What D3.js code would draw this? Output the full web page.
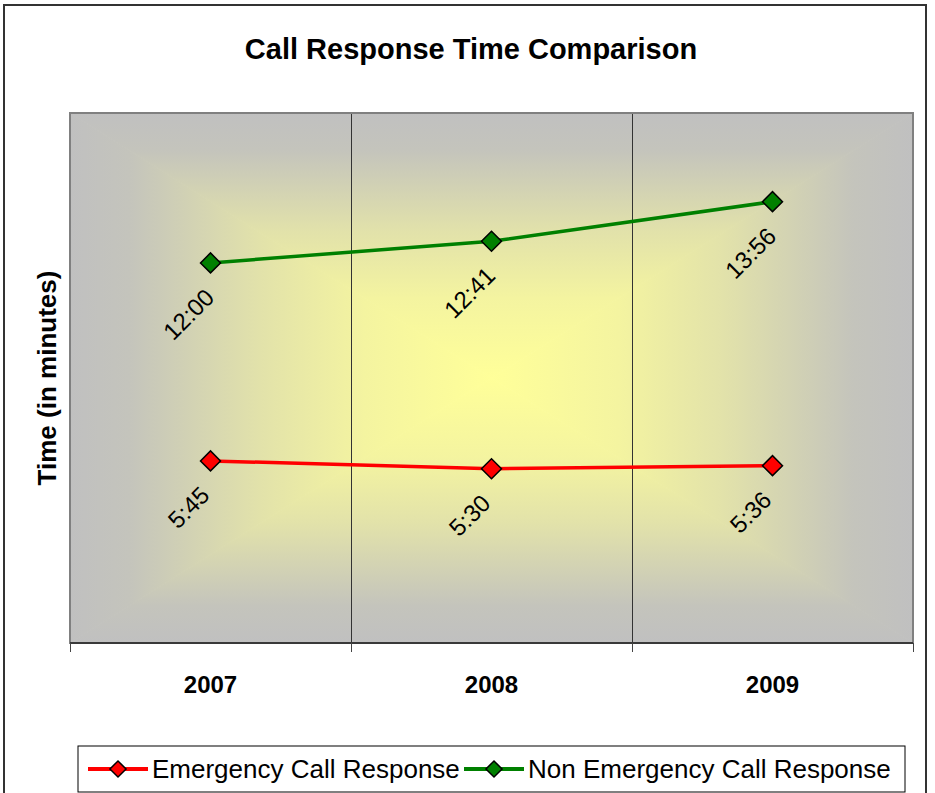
<!DOCTYPE html>
<html>
<head>
<meta charset="utf-8">
<script src="https://cdn.jsdelivr.net/npm/d3@7"></script>
<style>
  body { margin: 0; background: #fff; }
  svg { display: block; font-family: Arial, 'Liberation Sans', sans-serif; }
</style>
</head>
<body>
<div class="svg-container"></div>
<script>
// data (times in seconds)
const years = ['2007', '2008', '2009']
const emergency = [345, 330, 336]
const nonEmergency = [720, 761, 836]
const seriesNames = ['Emergency Call Response', 'Non Emergency Call Response']
const seriesColors = ['#ff0000', '#008000']

const width = 935
const height = 793
const plot = { left: 70, right: 913, top: 113, bottom: 643 }
const yMax = 1004

const svg = d3.select('.svg-container')
  .append('svg')
  .attr('width', width)
  .attr('height', height)

// outer chart frame
svg.append('rect')
  .attr('x', 4).attr('y', 5)
  .attr('width', 922).attr('height', 800)
  .attr('fill', '#fff')
  .attr('stroke', '#333')
  .attr('stroke-width', 2)

svg.append('text')
  .attr('x', 471)
  .attr('y', 59)
  .attr('text-anchor', 'middle')
  .attr('font-size', 29)
  .attr('font-weight', 'bold')
  .text('Call Response Time Comparison')

const xScale = d3.scaleBand()
  .domain(years)
  .range([plot.left, plot.right])

const yScale = d3.scaleLinear()
  .domain([0, yMax])
  .range([plot.bottom, plot.top])

const xMid = d => xScale(d) + xScale.bandwidth() / 2

// box gradient: gray edges to yellow centre, built from four triangles
const defs = svg.append('defs')
const cx = (plot.left + plot.right) / 2
const cy = (plot.top + plot.bottom) / 2
const sides = [
  { id: 'gTop', pts: [[plot.left, plot.top], [plot.right, plot.top], [cx, cy]], from: [cx, plot.top] },
  { id: 'gBottom', pts: [[plot.left, plot.bottom], [plot.right, plot.bottom], [cx, cy]], from: [cx, plot.bottom] },
  { id: 'gLeft', pts: [[plot.left, plot.top], [plot.left, plot.bottom], [cx, cy]], from: [plot.left, cy] },
  { id: 'gRight', pts: [[plot.right, plot.top], [plot.right, plot.bottom], [cx, cy]], from: [plot.right, cy] }
]
const stops = [
  [0, '#c0c0c0'], [0.14, '#c4c4bc'], [0.45, '#e2e2aa'], [0.7, '#f4f4a0'], [1, '#ffff99']
]
sides.forEach(s => {
  const g = defs.append('linearGradient')
    .attr('id', s.id)
    .attr('gradientUnits', 'userSpaceOnUse')
    .attr('x1', s.from[0]).attr('y1', s.from[1])
    .attr('x2', cx).attr('y2', cy)
  stops.forEach(([o, c]) => g.append('stop').attr('offset', o).attr('stop-color', c))
})

const bg = svg.append('g').classed('plot-bg', true)
bg.selectAll('path')
  .data(sides)
  .join('path')
    .attr('d', s => 'M' + s.pts.map(p => p.join(',')).join('L') + 'Z')
    .attr('fill', s => `url(#${s.id})`)
    .attr('stroke', s => `url(#${s.id})`)
    .attr('stroke-width', 1)

// category separators
svg.append('g')
  .selectAll('line')
  .data(years.slice(1))
  .join('line')
    .attr('x1', d => xScale(d) + 0.5).attr('x2', d => xScale(d) + 0.5)
    .attr('y1', plot.top).attr('y2', plot.bottom)
    .attr('stroke', '#333')
    .attr('stroke-width', 1)

svg.append('rect')
  .attr('x', plot.left).attr('y', plot.top)
  .attr('width', plot.right - plot.left)
  .attr('height', plot.bottom - plot.top)
  .attr('fill', 'none')
  .attr('stroke', '#808080')
  .attr('stroke-width', 2)

// x axis with ticks between categories
const tickPos = years.map(d => xScale(d)).concat([plot.right])
const axis = svg.append('g')
axis.append('line')
  .attr('x1', plot.left).attr('x2', plot.right)
  .attr('y1', plot.bottom).attr('y2', plot.bottom)
  .attr('stroke', '#222').attr('stroke-width', 1.5)
axis.selectAll('line.tick')
  .data(tickPos)
  .join('line')
    .classed('tick', true)
    .attr('x1', d => d + 0.5).attr('x2', d => d + 0.5)
    .attr('y1', plot.bottom).attr('y2', plot.bottom + 9)
    .attr('stroke', '#444')
axis.selectAll('text')
  .data(years)
  .join('text')
    .attr('x', d => xMid(d))
    .attr('y', 693)
    .attr('text-anchor', 'middle')
    .attr('font-size', 24)
    .attr('font-weight', 'bold')
    .text(d => d)

svg.append('text')
  .attr('transform', `translate(56, ${cy}) rotate(-90)`)
  .attr('text-anchor', 'middle')
  .attr('font-size', 26)
  .attr('font-weight', 'bold')
  .text('Time (in minutes)')

// series
const fmt = s => `${Math.floor(s / 60)}:${String(s % 60).padStart(2, '0')}`
const series = [emergency, nonEmergency].map((values, i) => ({
  name: seriesNames[i],
  color: seriesColors[i],
  points: values.map((v, j) => ({ year: years[j], value: v }))
}))

const line = d3.line()
  .x(d => xMid(d.year))
  .y(d => yScale(d.value))

const diamond = d3.symbol().type(d3.symbolSquare).size(200)

const seriesG = svg.selectAll('g.series')
  .data(series)
  .join('g')
    .classed('series', true)

seriesG.append('path')
  .attr('d', d => line(d.points))
  .attr('fill', 'none')
  .attr('stroke', d => d.color)
  .attr('stroke-width', 3.5)

seriesG.each(function (s) {
  const g = d3.select(this)
  g.selectAll('path.marker')
    .data(s.points)
    .join('path')
      .classed('marker', true)
      .attr('d', diamond)
      .attr('transform', d => `translate(${xMid(d.year)}, ${yScale(d.value)}) rotate(45)`)
      .attr('fill', s.color)
      .attr('stroke', '#000')
      .attr('stroke-width', 1.5)

  g.selectAll('text')
    .data(s.points)
    .join('text')
      .attr('font-size', 24)
      .attr('text-anchor', 'middle')
      .attr('dominant-baseline', 'central')
      .text(d => fmt(d.value))
      .attr('transform', function (d) {
        const len = this.getComputedTextLength()
        const half = (len + 17) / (2 * Math.SQRT2)
        return `translate(${xMid(d.year) - 22}, ${yScale(d.value) + 24 + half}) rotate(-45)`
      })
})

// legend
const legend = svg.append('g')
legend.append('rect')
  .attr('x', 78).attr('y', 746)
  .attr('width', 827).attr('height', 46)
  .attr('fill', '#fff')
  .attr('stroke', '#000')
  .attr('stroke-width', 1)

const legendX = [88, 464]
const items = legend.selectAll('g.item')
  .data(series)
  .join('g')
    .classed('item', true)
    .attr('transform', (d, i) => `translate(${legendX[i]}, 769)`)
items.append('line')
  .attr('x1', 0).attr('x2', 60)
  .attr('stroke', d => d.color)
  .attr('stroke-width', 4)
items.append('path')
  .attr('d', d3.symbol().type(d3.symbolSquare).size(130))
  .attr('transform', 'translate(30, 0) rotate(45)')
  .attr('fill', d => d.color)
  .attr('stroke', '#000')
  .attr('stroke-width', 1.5)
items.append('text')
  .attr('x', 64)
  .attr('dominant-baseline', 'central')
  .attr('font-size', 26)
  .text(d => d.name)
</script>
</body>
</html>
